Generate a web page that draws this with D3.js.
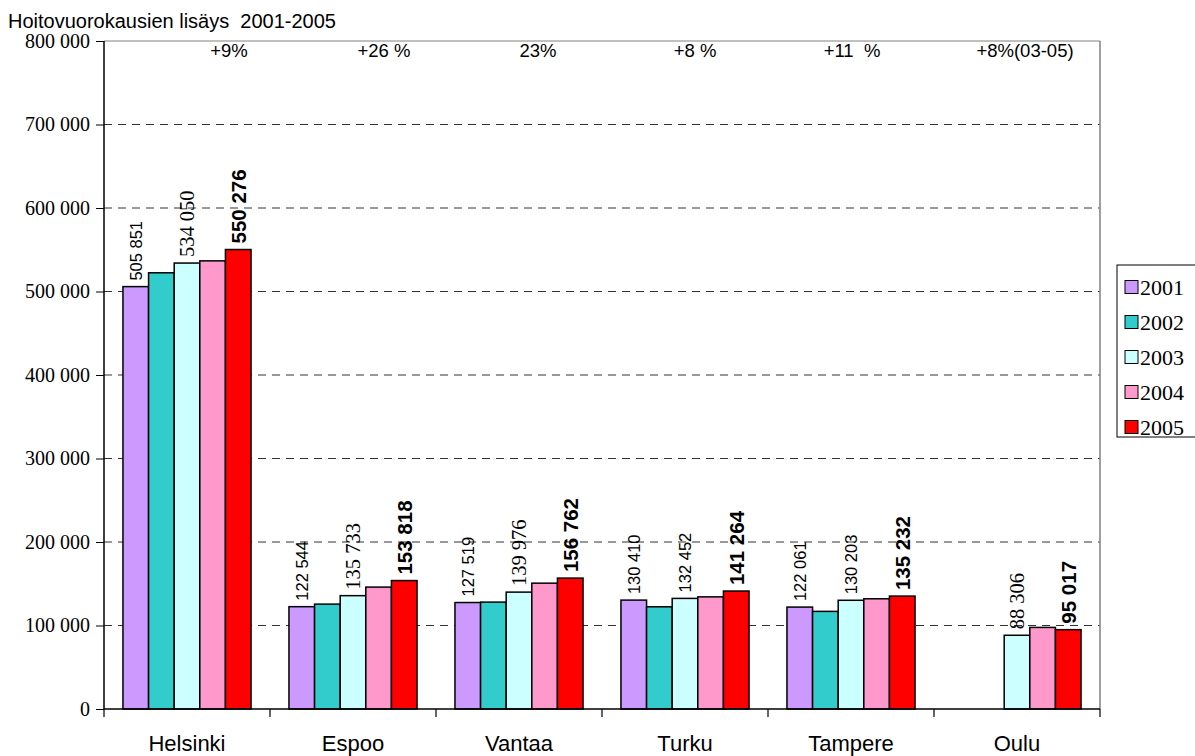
<!DOCTYPE html>
<html><head><meta charset="utf-8">
<script src="https://cdn.jsdelivr.net/npm/d3@7"></script>
<style>body{margin:0;background:#fff}svg text{white-space:pre}</style>
</head><body><svg id="c" width="1195" height="756"></svg>
<script>
const categories = ["Helsinki","Espoo","Vantaa","Turku","Tampere","Oulu"];
const years = ["2001","2002","2003","2004","2005"];
const v2001 = [505851,122544,127519,130410,122061,null];
const v2002 = [522400,125600,128000,122400,116900,null];
const v2003 = [534050,135733,139976,132452,130203,88306];
const v2004 = [536700,146000,150700,134300,132000,97700];
const v2005 = [550276,153818,156762,141264,135232,95017];
const growth = ["+9%","+26 %","23%","+8 %","+11  %","+8%(03-05)"];
const yTicks = [0,100000,200000,300000,400000,500000,600000,700000,800000];
const title = "Hoitovuorokausien lisäys  2001-2005";

const series = [v2001,v2002,v2003,v2004,v2005];
const colors = ["#cc99ff","#33cccc","#ccffff","#ff99cc","#ff0000"];
const labelled = {0:"sans",2:"serif",4:"bold"};
const serifLabels = new Set(["Helsinki","Espoo","Vantaa","Oulu"]);
const growthOffset = [42,31,19,10,1,8];
const SERIF = "'Liberation Serif','Times New Roman',serif";
const SANS = "'Liberation Sans',Arial,sans-serif";

const svg = d3.select("#c");
const L=104,R=1100,T=41,B=709;
const x0 = d3.scaleBand().domain(categories).range([L,R]).paddingInner(0).paddingOuter(0);
const x1 = d3.scaleBand().domain(years).range([0,x0.bandwidth()]).paddingInner(0).paddingOuter(0.74);
const y = d3.scaleLinear().domain([0,800000]).range([B,T]);
const fmt = v => d3.format(",")(v).replace(/,/g," ");

// gridlines
svg.append("g").selectAll("line").data(yTicks.filter(t=>t>0)).join("line")
  .attr("x1",L).attr("x2",R).attr("y1",d=>y(d)).attr("y2",d=>y(d))
  .attr("stroke",d=>d===800000?"#808080":"#333").attr("stroke-width",1)
  .attr("stroke-dasharray",d=>d===800000?null:"8,6");
// right border
svg.append("line").attr("x1",R).attr("x2",R).attr("y1",T).attr("y2",B).attr("stroke","#808080").attr("stroke-width",1.5);

// bars
const rows=[];
categories.forEach((c,i)=>years.forEach((yr,j)=>{ if(series[j][i]!=null) rows.push({c,yr,j,v:series[j][i]}); }));
svg.append("g").selectAll("rect").data(rows).join("rect")
  .attr("x",d=>x0(d.c)+x1(d.yr)).attr("width",x1.bandwidth())
  .attr("y",d=>y(d.v)).attr("height",d=>B-y(d.v))
  .attr("fill",d=>colors[d.j]).attr("stroke","#000").attr("stroke-width",1.5);

// labels
const isSerif = d => d.j===2 && serifLabels.has(d.c);
svg.append("g").selectAll("text").data(rows.filter(d=>labelled[d.j]!==undefined)).join("text")
  .attr("transform",d=>`translate(${x0(d.c)+x1(d.yr)+x1.bandwidth()/2},${y(d.v)-6}) rotate(-90)`)
  .attr("dy","0.36em").attr("text-anchor","start")
  .style("font-family",d=> isSerif(d) ? SERIF : SANS)
  .style("font-size",d=> (d.j===4 ? 20.5 : isSerif(d) ? 20.5 : 16.5)+"px")
  .style("font-weight",d=>d.j===4?"bold":"normal")
  .text(d=>fmt(d.v));

// y axis
const ya = svg.append("g").attr("transform",`translate(${L},0)`)
  .call(d3.axisLeft(y).tickValues(yTicks).tickSize(8).tickFormat(d=>d===0?"0":fmt(d)));
ya.attr("font-family",null).attr("font-size",null);
ya.select(".domain").attr("stroke","#000").attr("stroke-width",1.5).attr("d",`M0,${T}V${B}`);
ya.selectAll(".tick line").attr("stroke","#000");
ya.selectAll(".tick text").style("font-family",SERIF).style("font-size","20px").attr("fill","#000").attr("x",-14);

// x axis
svg.append("line").attr("x1",L).attr("x2",R).attr("y1",B).attr("y2",B).attr("stroke","#000").attr("stroke-width",1.5);
const bounds = categories.map(c=>x0(c)).concat([R]);
svg.append("g").selectAll("line").data(bounds).join("line")
  .attr("x1",d=>d).attr("x2",d=>d).attr("y1",B).attr("y2",B+8).attr("stroke","#000").attr("stroke-width",1.2);
svg.append("g").selectAll("text").data(categories).join("text")
  .attr("x",d=>x0(d)+x0.bandwidth()/2).attr("y",751).attr("text-anchor","middle")
  .style("font-family",SANS).style("font-size","22px").text(d=>d);

// growth annotations
svg.append("g").selectAll("text").data(growth).join("text")
  .attr("x",(d,i)=>x0(categories[i])+x0.bandwidth()/2+growthOffset[i]).attr("y",57).attr("text-anchor","middle")
  .style("font-family",SANS).style("font-size","18.5px").text(d=>d);

// title
svg.append("text").attr("x",8).attr("y",28).style("font-family",SANS).style("font-size","20px").text(title);

// legend
const lg = svg.append("g");
lg.append("rect").attr("x",1117).attr("y",265).attr("width",90).attr("height",172).attr("fill","#fff").attr("stroke","#000").attr("stroke-width",1);
const li = lg.selectAll("g").data(years).join("g").attr("transform",(d,i)=>`translate(1125,${287+i*35})`);
li.append("rect").attr("x",0).attr("y",-6.5).attr("width",13).attr("height",13).attr("fill",(d,i)=>colors[i]).attr("stroke","#000").attr("stroke-width",1);
li.append("text").attr("x",15).attr("y",0).attr("dy","0.35em").style("font-family",SERIF).style("font-size","22px").text(d=>d);
</script></body></html>
